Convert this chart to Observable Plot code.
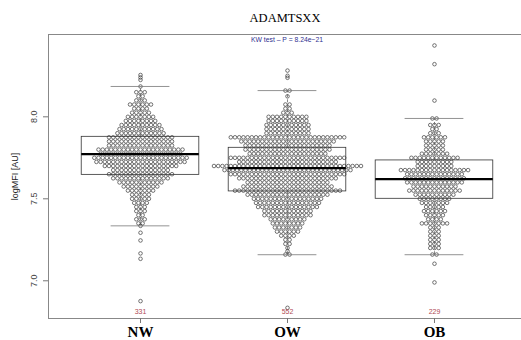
<!DOCTYPE html>
<html><head><meta charset="utf-8">
<script src="https://cdn.jsdelivr.net/npm/d3@7"></script>
<script src="https://cdn.jsdelivr.net/npm/@observablehq/plot@0.6"></script>
<style>html,body{margin:0;padding:0;background:#fff;overflow:hidden}</style>
</head><body><div id="chart"></div>
<script>
const groups = ["NW", "OW", "OB"];
const groupSizes = [331, 552, 229];
const yTicks = [7.0, 7.5, 8.0];
const titleText = "ADAMTSXX";
const subtitleText = "KW test \u2013 P = 8.24e\u221221";
const yLabel = "logMFI [AU]";

// box stats: [lower whisker, Q1, median, Q3, upper whisker]
const nwBox = [7.335, 7.646, 7.772, 7.878, 8.185];
const owBox = [7.159, 7.545, 7.687, 7.811, 8.160];
const obBox = [7.159, 7.500, 7.620, 7.734, 7.990];

// beeswarm rows: value levels and number of points at each level
const nwLevels = [8.185, 8.150, 8.125, 8.100, 8.075, 8.050, 8.025, 8.000, 7.975, 7.950, 7.925, 7.900, 7.875, 7.850, 7.825, 7.800, 7.775, 7.750, 7.725, 7.700, 7.675, 7.650, 7.625, 7.600, 7.575, 7.550, 7.525, 7.500, 7.475, 7.450, 7.425, 7.400, 7.375, 7.350, 7.335];
const nwCounts = [1, 3, 2, 3, 6, 4, 5, 7, 8, 10, 11, 12, 16, 16, 16, 21, 20, 23, 22, 18, 14, 16, 14, 11, 9, 7, 5, 5, 4, 3, 3, 2, 3, 2, 1];
const nwOutliers = [8.255, 8.240, 8.225, 7.293, 7.246, 7.167, 7.134, 6.876];

const owLevels = [8.160, 8.125, 8.075, 8.050, 8.025, 8.000, 7.975, 7.950, 7.925, 7.900, 7.875, 7.850, 7.825, 7.800, 7.775, 7.750, 7.725, 7.700, 7.675, 7.650, 7.625, 7.600, 7.575, 7.550, 7.525, 7.500, 7.475, 7.450, 7.425, 7.400, 7.375, 7.350, 7.325, 7.300, 7.275, 7.250, 7.225, 7.200, 7.180, 7.160];
const owCounts = [2, 1, 2, 2, 3, 10, 10, 11, 11, 11, 28, 23, 21, 21, 19, 28, 24, 36, 31, 28, 24, 20, 22, 26, 20, 17, 16, 15, 12, 12, 9, 8, 7, 6, 4, 2, 2, 1, 1, 2];
const owOutliers = [8.282, 8.250, 8.238, 6.835];

const obLevels = [7.990, 7.950, 7.925, 7.900, 7.875, 7.850, 7.825, 7.800, 7.775, 7.750, 7.725, 7.700, 7.675, 7.650, 7.625, 7.600, 7.575, 7.550, 7.525, 7.500, 7.475, 7.450, 7.425, 7.400, 7.375, 7.350, 7.325, 7.300, 7.275, 7.250, 7.225, 7.200, 7.160];
const obCounts = [2, 3, 2, 3, 6, 5, 5, 5, 7, 12, 9, 9, 17, 14, 15, 14, 11, 13, 10, 8, 7, 5, 6, 5, 4, 7, 3, 3, 3, 3, 3, 3, 2];
const obOutliers = [8.435, 8.321, 8.099, 7.104, 6.990];

const W = 521, H = 340;
const mL = 48, mT = 34, mB = 22;
const xDomain = [0.374, 3.626];
const xRange = [48, 526];
const yDomain = [6.770, 8.502];

const series = [
  {levels: nwLevels, counts: nwCounts, outliers: nwOutliers, box: nwBox},
  {levels: owLevels, counts: owCounts, outliers: owOutliers, box: owBox},
  {levels: obLevels, counts: obCounts, outliers: obOutliers, box: obBox}
];

const pxPerX = (xRange[1] - xRange[0]) / (xDomain[1] - xDomain[0]);
const spacing = 4.2 / pxPerX;

const points = [];
series.forEach((s, gi) => {
  s.levels.forEach((v, k) => {
    const n = s.counts[k];
    for (let i = 0; i < n; i++) points.push({gx: gi + 1 + (i - (n - 1) / 2) * spacing, val: v});
  });
  s.outliers.forEach(v => points.push({gx: gi + 1, val: v}));
});

const boxData = series.map((s, gi) => ({
  pos: gi + 1, lo: s.box[0], q1: s.box[1], med: s.box[2], q3: s.box[3], hi: s.box[4]
}));

const sans = "Liberation Sans, Arial, sans-serif";
const serif = "Liberation Serif, Times New Roman, serif";

const chart = Plot.plot({
  width: W, height: H,
  marginLeft: mL, marginRight: 0, marginTop: mT, marginBottom: mB,
  x: {domain: xDomain, range: xRange, label: null},
  y: {domain: yDomain, label: null},
  style: {background: "#fff"},
  marks: [
    Plot.dot(points, {x: "gx", y: "val", r: 1.8, fill: "none", stroke: "#3a3a3a", strokeWidth: 0.7}),
    Plot.ruleX(boxData, {x: "pos", y1: "q3", y2: "hi", stroke: "#555", strokeWidth: 0.7, strokeDasharray: "3,2"}),
    Plot.ruleX(boxData, {x: "pos", y1: "lo", y2: "q1", stroke: "#555", strokeWidth: 0.7, strokeDasharray: "3,2"}),
    Plot.ruleY(boxData, {x1: d => d.pos - 0.2, x2: d => d.pos + 0.2, y: "hi", stroke: "#777", strokeWidth: 0.8}),
    Plot.ruleY(boxData, {x1: d => d.pos - 0.2, x2: d => d.pos + 0.2, y: "lo", stroke: "#777", strokeWidth: 0.8}),
    Plot.rect(boxData, {x1: d => d.pos - 0.4, x2: d => d.pos + 0.4, y1: "q1", y2: "q3", fill: "none", stroke: "#333", strokeWidth: 0.8}),
    Plot.ruleY(boxData, {x1: d => d.pos - 0.4, x2: d => d.pos + 0.4, y: "med", stroke: "#000", strokeWidth: 2.3}),
    Plot.ruleX([xDomain[0]], {stroke: "#888", strokeWidth: 1}),
    Plot.ruleY([yDomain[0], yDomain[1]], {stroke: "#888", strokeWidth: 1}),
    Plot.axisX({ticks: [1, 2, 3], tickSize: 5, tickFormat: () => "", stroke: "#777", label: null}),
    Plot.axisY({ticks: yTicks, tickSize: 5, tickFormat: () => "", stroke: "#777", label: null}),
    Plot.text(yTicks, {y: d => d, text: d => d.toFixed(1), frameAnchor: "left", dx: -14.5, rotate: -90, fontSize: 9, fontFamily: sans, fill: "#444", lineAnchor: "middle", textAnchor: "middle"}),
    Plot.text([yLabel], {frameAnchor: "left", dx: -33, rotate: -90, fontSize: 9, fontFamily: sans, fill: "#222", lineAnchor: "middle", textAnchor: "middle"}),
    Plot.text(groups, {x: (d, i) => i + 1, frameAnchor: "bottom", dy: 13.8, fontSize: 15, fontWeight: "bold", fontFamily: serif, fill: "#000", lineAnchor: "middle"}),
    Plot.text(groupSizes, {x: (d, i) => i + 1, text: d => String(d), frameAnchor: "bottom", dy: -6.3, fontSize: 7, fontFamily: sans, fill: "#b04a55", lineAnchor: "middle"}),
    Plot.text([titleText], {frameAnchor: "top", dy: -16.3, fontSize: 12.5, fontFamily: serif, fill: "#000", lineAnchor: "middle"}),
    Plot.text([subtitleText], {frameAnchor: "top", dx: 2, dy: 5.5, fontSize: 6.8, fontFamily: sans, fill: "#2f2f8f", lineAnchor: "middle"})
  ]
});
document.getElementById("chart").appendChild(chart);
</script>
</body></html>
